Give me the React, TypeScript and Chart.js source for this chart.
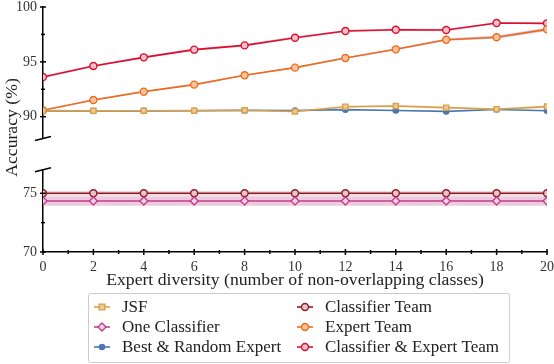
import React, { useEffect, useRef } from 'react';
import { Chart, registerables } from 'chart.js';

Chart.register(...registerables);

// ---- data ----
const diversity = [0, 2, 4, 6, 8, 10, 12, 14, 16, 18, 20];
const jsf = [90.55, 90.53, 90.54, 90.55, 90.58, 90.47, 90.91, 90.97, 90.82, 90.68, 90.92];
const oneClassifier = [74.34, 74.34, 74.34, 74.34, 74.34, 74.34, 74.34, 74.34, 74.34, 74.34, 74.34];
const bestRandomExpert = [90.52, 90.52, 90.53, 90.54, 90.57, 90.56, 90.64, 90.56, 90.48, 90.66, 90.54];
const classifierTeam = [75.0, 75.0, 75.0, 75.0, 75.0, 75.0, 75.0, 75.0, 75.0, 75.0, 75.0];
const expertTeam = [90.58, 91.52, 92.28, 92.92, 93.77, 94.47, 95.35, 96.14, 97.02, 97.24, 97.96];
const classifierExpertTeam = [93.62, 94.62, 95.41, 96.11, 96.5, 97.2, 97.81, 97.93, 97.9, 98.54, 98.51];

// standard deviations (shaded bands)
const jsfStd = [0.05, 0.05, 0.05, 0.05, 0.05, 0.08, 0.1, 0.12, 0.1, 0.08, 0.12];
const oneClassifierStd = [0.4, 0.4, 0.4, 0.4, 0.4, 0.4, 0.4, 0.4, 0.4, 0.4, 0.4];
const classifierTeamStd = [0.2, 0.2, 0.2, 0.2, 0.2, 0.2, 0.2, 0.2, 0.2, 0.2, 0.2];
const expertTeamStd = [0.06, 0.06, 0.06, 0.06, 0.06, 0.06, 0.06, 0.08, 0.1, 0.14, 0.14];
const classifierExpertTeamStd = [0.12, 0.1, 0.1, 0.1, 0.1, 0.1, 0.1, 0.1, 0.1, 0.08, 0.08];

const upperTicks = [90, 95, 100];
const lowerTicks = [70, 75];
const upperMinor = [92.5, 97.5];
const lowerMinor = [72.5];
const xMinor = [1, 3, 5, 7, 9, 11, 13, 15, 17, 19];

const xTitle = 'Expert diversity (number of non-overlapping classes)';
const yTitle = 'Accuracy (%)';

const FONT = '"Liberation Serif", "DejaVu Serif", serif';

type SeriesDef = {
  label: string;
  values: number[];
  std: number[];
  axis: string;
  color: string;
  fill: string;
  band: string;
  style: string;
  radius: number;
};

const series: SeriesDef[] = [
  { label: 'JSF', values: jsf, std: jsfStd, axis: 'yTop', color: '#D9A04E', fill: '#EBCB96', band: 'rgba(225,190,110,0.35)', style: 'rect', radius: 3.6 },
  { label: 'One Classifier', values: oneClassifier, std: oneClassifierStd, axis: 'yBottom', color: '#C0408C', fill: '#F4D2E6', band: 'rgba(200,80,150,0.3)', style: 'rectRot', radius: 4 },
  { label: 'Best & Random Expert', values: bestRandomExpert, std: jsfStd, axis: 'yTop', color: '#4A78AE', fill: '#4A78AE', band: 'none', style: 'circle', radius: 2.6 },
  { label: 'Classifier Team', values: classifierTeam, std: classifierTeamStd, axis: 'yBottom', color: '#8C1C26', fill: '#E8C4C8', band: 'rgba(190,90,120,0.25)', style: 'circle', radius: 3.5 },
  { label: 'Expert Team', values: expertTeam, std: expertTeamStd, axis: 'yTop', color: '#F06A1E', fill: '#F9C49C', band: 'rgba(120,60,120,0.3)', style: 'circle', radius: 3.5 },
  { label: 'Classifier & Expert Team', values: classifierExpertTeam, std: classifierExpertTeamStd, axis: 'yTop', color: '#DA1030', fill: '#F6C0CA', band: 'rgba(230,70,100,0.3)', style: 'circle', radius: 3.5 },
];

function buildDatasets() {
  const ds: any[] = [];
  series.forEach((s) => {
    if (s.band !== 'none') {
      ds.push({
        label: s.label + ' low',
        isBand: true,
        data: diversity.map((x, i) => ({ x, y: s.values[i] - s.std[i] })),
        yAxisID: s.axis,
        borderWidth: 0,
        pointRadius: 0,
        fill: false,
        order: 10,
      });
      ds.push({
        label: s.label + ' high',
        isBand: true,
        data: diversity.map((x, i) => ({ x, y: s.values[i] + s.std[i] })),
        yAxisID: s.axis,
        borderWidth: 0,
        pointRadius: 0,
        backgroundColor: s.band,
        fill: '-1',
        order: 10,
      });
    }
  });
  series.forEach((s) => {
    ds.push({
      label: s.label,
      isBand: false,
      data: diversity.map((x, i) => ({ x, y: s.values[i] })),
      yAxisID: s.axis,
      borderColor: s.color,
      backgroundColor: s.fill,
      borderWidth: 1.6,
      pointStyle: s.style,
      pointRadius: s.radius,
      pointBorderWidth: 1.4,
      pointBorderColor: s.color,
      pointBackgroundColor: s.fill,
      fill: false,
      tension: 0,
      order: 1,
    });
  });
  return ds;
}

function drawMarker(ctx: CanvasRenderingContext2D, s: SeriesDef, x: number, y: number) {
  ctx.save();
  ctx.strokeStyle = s.color;
  ctx.lineWidth = 1.6;
  ctx.beginPath();
  ctx.moveTo(x - 8, y);
  ctx.lineTo(x + 8, y);
  ctx.stroke();
  ctx.fillStyle = s.fill;
  ctx.lineWidth = 1.4;
  const r = s.radius;
  ctx.beginPath();
  if (s.style === 'rect') {
    ctx.rect(x - r * 0.8, y - r * 0.8, r * 1.6, r * 1.6);
  } else if (s.style === 'rectRot') {
    ctx.moveTo(x, y - r);
    ctx.lineTo(x + r, y);
    ctx.lineTo(x, y + r);
    ctx.lineTo(x - r, y);
    ctx.closePath();
  } else {
    ctx.arc(x, y, r, 0, Math.PI * 2);
  }
  ctx.fill();
  ctx.stroke();
  ctx.restore();
}

const decorPlugin = {
  id: 'decor',
  afterDraw(chart: any) {
    const ctx: CanvasRenderingContext2D = chart.ctx;
    const xs = chart.scales.x;
    const yt = chart.scales.yTop;
    const yb = chart.scales.yBottom;
    const axisX = yt.right;
    const axisY = xs.top;
    ctx.save();
    ctx.strokeStyle = '#000';
    ctx.lineWidth = 1.5;
    // x ticks
    diversity.forEach((v) => {
      const px = xs.getPixelForValue(v);
      ctx.beginPath();
      ctx.moveTo(px, axisY - 3);
      ctx.lineTo(px, axisY + 3);
      ctx.stroke();
    });
    xMinor.forEach((v) => {
      const px = xs.getPixelForValue(v);
      ctx.beginPath();
      ctx.moveTo(px, axisY - 2);
      ctx.lineTo(px, axisY + 2);
      ctx.stroke();
    });
    // y ticks
    const yTick = (scale: any, vals: number[], len: number) => {
      vals.forEach((v) => {
        const py = scale.getPixelForValue(v);
        ctx.beginPath();
        ctx.moveTo(axisX - len, py);
        ctx.lineTo(axisX + len, py);
        ctx.stroke();
      });
    };
    yTick(yt, upperTicks, 3);
    yTick(yb, lowerTicks, 3);
    yTick(yt, upperMinor, 2);
    yTick(yb, lowerMinor, 2);
    // break marks
    const brk = (py: number) => {
      ctx.beginPath();
      ctx.moveTo(axisX - 8, py + 2);
      ctx.lineTo(axisX + 8, py - 2);
      ctx.stroke();
    };
    brk(yt.bottom);
    brk(yb.top);

    // axis titles
    ctx.fillStyle = '#222';
    ctx.font = `17.7px ${FONT}`;
    ctx.textAlign = 'center';
    ctx.textBaseline = 'middle';
    ctx.fillText(xTitle, (xs.left + xs.right) / 2, axisY + 28);
    ctx.save();
    ctx.translate(12, (yt.top + yb.bottom) / 2 - 2);
    ctx.rotate(-Math.PI / 2);
    ctx.fillText(yTitle, 0, 0);
    ctx.restore();

    // legend
    const lx = 88, ly = 293, lw = 421, lh = 69;
    ctx.strokeStyle = '#cccccc';
    ctx.lineWidth = 1;
    ctx.beginPath();
    ctx.roundRect(lx + 0.5, ly + 0.5, lw, lh, 2);
    ctx.stroke();
    ctx.font = `17px ${FONT}`;
    ctx.textAlign = 'left';
    ctx.fillStyle = '#222';
    const colX = [102, 305];
    const rowY = [307, 327, 347];
    const main = chart.data.datasets.filter((d: any) => !d.isBand);
    main.forEach((d: any, i: number) => {
      const s = series.find((q) => q.label === d.label)!;
      const col = Math.floor(i / 3);
      const row = i % 3;
      drawMarker(ctx, s, colX[col], rowY[row]);
      ctx.fillStyle = '#222';
      ctx.fillText(d.label, colX[col] + 20, rowY[row] + 1);
    });
    ctx.restore();
  },
};

export default function App() {
  const ref = useRef<HTMLCanvasElement | null>(null);
  useEffect(() => {
    if (!ref.current) return;
    const tickFont = { family: FONT, size: 14 };
    const yCommon = (min: number, max: number, ticks: number[], weight: number) => ({
      type: 'linear',
      position: 'left',
      stack: 'acc',
      stackWeight: weight,
      min,
      max,
      afterBuildTicks: (s: any) => {
        s.ticks = ticks.map((v) => ({ value: v }));
      },
      afterFit: (s: any) => {
        s.width = 43;
        s.paddingTop = 0;
        s.paddingBottom = 0;
      },
      ticks: { font: tickFont, color: '#333', padding: 6 },
      grid: { display: false, drawTicks: false },
      border: { display: true, color: '#000', width: 1.5 },
    });
    const chart = new Chart(ref.current, {
      type: 'line',
      data: { datasets: buildDatasets() },
      options: {
        animation: false,
        responsive: false,
        layout: { padding: { top: 7, right: 7, left: 0, bottom: 0 } },
        plugins: { legend: { display: false }, tooltip: { enabled: false } },
        scales: {
          x: {
            type: 'linear',
            min: 0,
            max: 20,
            afterBuildTicks: (s: any) => {
              s.ticks = diversity.map((v) => ({ value: v }));
            },
            afterFit: (s: any) => {
              s.height = 112;
              s.paddingLeft = 0;
              s.paddingRight = 0;
            },
            ticks: { font: tickFont, color: '#333', padding: 7, maxRotation: 0, autoSkip: false },
            grid: { display: false, drawTicks: false },
            border: { display: true, color: '#000', width: 1.5 },
          },
          yBottom: yCommon(70, 77, lowerTicks, 82.2),
          yGap: {
            type: 'linear',
            position: 'left',
            stack: 'acc',
            stackWeight: 31.2,
            min: 0,
            max: 1,
            afterFit: (s: any) => {
              s.width = 43;
              s.paddingTop = 0;
              s.paddingBottom = 0;
            },
            ticks: { display: false },
            grid: { display: false, drawTicks: false },
            border: { display: false },
          },
          yTop: yCommon(88, 100, upperTicks, 131.6),
        } as any,
      },
      plugins: [decorPlugin],
    } as any);
    return () => chart.destroy();
  }, []);
  return (
    <div style={{ position: 'absolute', left: 0, top: 0, width: 554, height: 364, background: '#fff' }}>
      <canvas ref={ref} width={554} height={364} style={{ display: 'block' }} />
    </div>
  );
}
